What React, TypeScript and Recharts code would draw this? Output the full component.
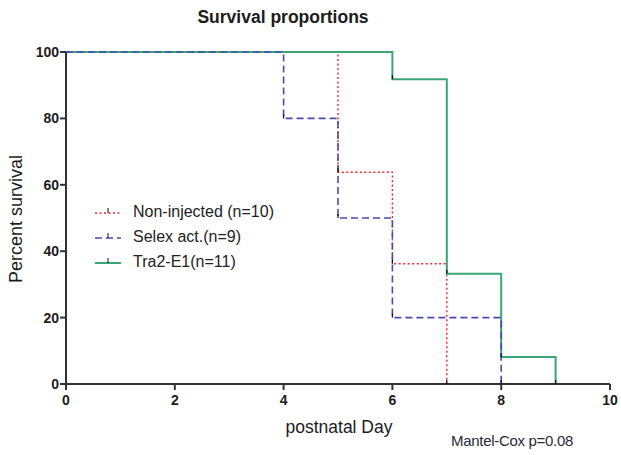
import React from 'react';
import { LineChart, Line, XAxis, YAxis, Legend, Label } from 'recharts';

// Kaplan-Meier steps: each point is the survival level from that day on
const nonInjectedDays = [0, 5, 6, 7];
const nonInjectedPct = [100, 63.8, 36.2, 0];

const selexDays = [0, 4, 5, 6, 8];
const selexPct = [100, 80, 50, 20, 0];

const tra2Days = [0, 6, 7, 8, 9];
const tra2Pct = [100, 91.8, 33.2, 8.1, 0];

const xTicks = [0, 2, 4, 6, 8, 10];
const yTicks = [0, 20, 40, 60, 80, 100];

const toPoints = (days: number[], pct: number[]) => days.map((d, i) => ({ day: d, pct: pct[i] }));

const series = [
  { name: 'Non-injected (n=10)', data: toPoints(nonInjectedDays, nonInjectedPct), color: '#f0242b', dash: '2 2.5', width: 1.4 },
  { name: 'Tra2-E1(n=11)', data: toPoints(tra2Days, tra2Pct), color: '#3aa674', dash: undefined, width: 2 },
  { name: 'Selex act.(n=9)', data: toPoints(selexDays, selexPct), color: '#4a4aae', dash: '7 4', width: 1.6 },
];
const legendOrder = ['Non-injected (n=10)', 'Selex act.(n=9)', 'Tra2-E1(n=11)'];

const FONT = '"Liberation Sans", Arial, sans-serif';
const INK = '#1c1c1c';

// small black tick at each step corner, like the GraphPad export
const StepMark = (props: any) => {
  const { cx, cy, index } = props;
  if (index === 0 || cx == null || cy == null) return <g key={`m-${index}`} />;
  return <line key={`m-${index}`} x1={cx} y1={cy - 4} x2={cx} y2={cy} stroke="#111" strokeWidth={1.2} />;
};

function LegendBox() {
  return (
    <div style={{ fontFamily: FONT, fontSize: 16, color: '#222' }}>
      {legendOrder.map(n => {
        const s = series.find(x => x.name === n)!;
        return (
          <div key={n} style={{ display: 'flex', alignItems: 'center', height: 25 }}>
            <svg width={39} height={12}>
              <line x1={1} y1={7} x2={27} y2={7} stroke={s.color} strokeWidth={s.width} strokeDasharray={s.dash} />
              <line x1={14} y1={2} x2={14} y2={7} stroke="#111" strokeWidth={1} />
            </svg>
            <span>{n}</span>
          </div>
        );
      })}
    </div>
  );
}

export default function App() {
  return (
    <div style={{ position: 'absolute', left: 0, top: 0, width: 621, height: 455, background: '#fff' }}>
      <div style={{ position: 'absolute', left: 0, width: 566, top: 7, textAlign: 'center', fontFamily: FONT, fontWeight: 700, fontSize: 17.5, color: INK }}>
        Survival proportions
      </div>
      <LineChart width={621} height={455} margin={{ top: 52, right: 11, bottom: 41, left: 6 }}>
        <XAxis
          type="number"
          dataKey="day"
          domain={[0, 10]}
          ticks={xTicks}
          allowDuplicatedCategory={false}
          height={30}
          stroke="#333"
          strokeWidth={2}
          tickSize={6}
          tickMargin={5}
          tick={{ fill: INK, fontFamily: FONT, fontWeight: 700, fontSize: 14 }}
        >
          <Label
            content={(props: any) => {
              const vb = props.viewBox || { x: 66, y: 384, width: 544, height: 30 };
              return (
                <text x={vb.x + vb.width / 2 + 1} y={vb.y + vb.height + 19} textAnchor="middle" fontFamily={FONT} fontSize={17.5} fill={INK}>
                  postnatal Day
                </text>
              );
            }}
          />
        </XAxis>
        <YAxis
          type="number"
          domain={[0, 100]}
          ticks={yTicks}
          width={60}
          stroke="#333"
          strokeWidth={2}
          tickSize={6}
          tickMargin={1}
          tick={{ fill: INK, fontFamily: FONT, fontWeight: 700, fontSize: 14 }}
        >
          <Label
            content={(props: any) => {
              const vb = props.viewBox || { x: 6, y: 52, width: 60, height: 332 };
              const cx = vb.x + 10;
              const cy = vb.y + vb.height / 2 + 1;
              return (
                <text x={cx} y={cy} transform={`rotate(-90 ${cx} ${cy})`} textAnchor="middle" dominantBaseline="central" fontFamily={FONT} fontSize={18} fill={INK}>
                  Percent survival
                </text>
              );
            }}
          />
        </YAxis>
        <Legend
          layout="vertical"
          verticalAlign="middle"
          align="center"
          wrapperStyle={{ left: 94, top: 199, width: 220 }}
          content={() => <LegendBox />}
        />
        {series.map(s => (
          <Line
            key={s.name}
            name={s.name}
            data={s.data}
            dataKey="pct"
            type="stepAfter"
            stroke={s.color}
            strokeWidth={s.width}
            strokeDasharray={s.dash}
            dot={<StepMark />}
            activeDot={false}
            isAnimationActive={false}
          />
        ))}
      </LineChart>
      <div style={{ position: 'absolute', left: 451, top: 432, fontFamily: FONT, fontSize: 15, color: '#2a2a3a', letterSpacing: -0.3 }}>
        Mantel-Cox p=0.08
      </div>
    </div>
  );
}
